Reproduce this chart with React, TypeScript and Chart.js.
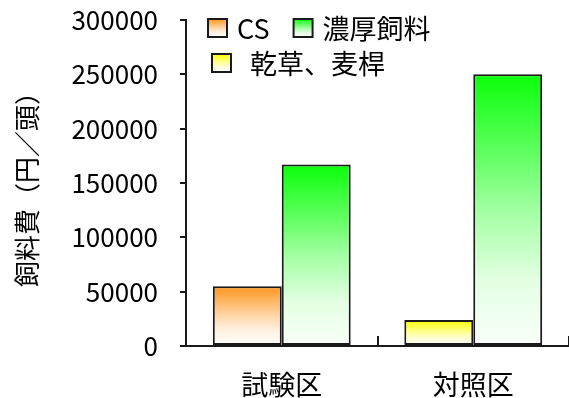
import React, { useEffect, useRef } from "react";
import { Chart, registerables } from "chart.js";

Chart.register(...registerables);

const categories = ["試験区", "対照区"];
const seriesNames = ["CS", "濃厚飼料", "乾草、麦桿"];
const csValues: (number | null)[] = [55000, null];
const hayValues: (number | null)[] = [null, 24000];
const concentrateValues: (number | null)[] = [167000, 250000];
const yMin = 0;
const yMax = 300000;
const yStep = 50000;
const yTitle = "飼料費（円／頭）";

const FONT = "'Noto Sans CJK JP', 'Noto Sans', sans-serif";
const ORANGE = [255, 150, 30];
const GREEN = [10, 255, 10];
const YELLOW = [255, 255, 0];

function mix(c: number[], f: number) {
  const r = Math.round(c[0] + (255 - c[0]) * f);
  const g = Math.round(c[1] + (255 - c[1]) * f);
  const b = Math.round(c[2] + (255 - c[2]) * f);
  return `rgb(${r},${g},${b})`;
}

const stops: [number, number][] = [
  [0, 0],
  [0.25, 0.3],
  [0.5, 0.62],
  [0.75, 0.88],
  [1, 0.98],
];

function makeGradient(ctx: CanvasRenderingContext2D, c: number[], top: number, bottom: number) {
  const g = ctx.createLinearGradient(0, top, 0, bottom);
  stops.forEach(([t, f]) => g.addColorStop(t, mix(c, f)));
  return g;
}

function barFill(c: number[]) {
  return (context: any) => {
    const chart = context.chart;
    if (!chart.chartArea || !context.parsed || context.parsed.y == null) return mix(c, 0.3);
    const y = chart.scales.y;
    const top = y.getPixelForValue(context.parsed.y);
    const bottom = y.getPixelForValue(0);
    if (!isFinite(top) || !isFinite(bottom) || bottom - top < 1) return mix(c, 0.3);
    return makeGradient(chart.ctx, c, top, bottom);
  };
}

const legendPlugin = {
  id: "insideLegend",
  afterDraw(chart: any) {
    const ctx: CanvasRenderingContext2D = chart.ctx;
    const left = chart.chartArea.left;
    const top = chart.chartArea.top;
    ctx.save();
    ctx.font = `27px ${FONT}`;
    ctx.textBaseline = "middle";
    ctx.textAlign = "left";
    const drawItem = (x: number, yc: number, w: number, h: number, c: number[], label: string, gap: number) => {
      const y0 = yc - h / 2;
      ctx.fillStyle = makeGradient(ctx, c, y0, y0 + h);
      ctx.fillRect(x, y0, w, h);
      ctx.lineWidth = 2;
      ctx.strokeStyle = "#1a1a1a";
      ctx.strokeRect(x, y0, w, h);
      ctx.fillStyle = "#000";
      ctx.fillText(label, x + w + gap, yc + 1);
      return x + w + gap + ctx.measureText(label).width;
    };
    const row1 = top + 8;
    const end1 = drawItem(left + 22, row1, 19, 18, ORANGE, seriesNames[0], 10);
    drawItem(end1 + 24, row1, 19, 18, GREEN, seriesNames[1], 10);
    drawItem(left + 26, top + 43, 19, 18, YELLOW, seriesNames[2], 19);
    ctx.restore();
  },
};

export default function App() {
  const ref = useRef<HTMLCanvasElement>(null);
  useEffect(() => {
    document.body.style.margin = "0";
    const canvas = ref.current!;
    const chart = new Chart(canvas, {
      type: "bar",
      data: {
        labels: categories,
        datasets: [
          {
            label: seriesNames[0],
            data: csValues,
            backgroundColor: barFill(ORANGE),
            borderColor: "#1a1a1a",
            borderWidth: 2,
            borderSkipped: false,
          },
          {
            label: seriesNames[2],
            data: hayValues,
            backgroundColor: barFill(YELLOW),
            borderColor: "#1a1a1a",
            borderWidth: 2,
            borderSkipped: false,
          },
          {
            label: seriesNames[1],
            data: concentrateValues,
            backgroundColor: barFill(GREEN),
            borderColor: "#1a1a1a",
            borderWidth: 2,
            borderSkipped: false,
          },
        ],
      },
      options: {
        animation: false,
        responsive: false,
        skipNull: true,
        categoryPercentage: 0.72,
        barPercentage: 1.0,
        layout: { padding: { top: 20, left: 0, right: 0, bottom: 0 } },
        plugins: { legend: { display: false }, tooltip: { enabled: false } },
        scales: {
          x: {
            afterFit: (s: any) => {
              s.height = 52;
              s.paddingLeft = 0;
              s.paddingRight = 0;
            },
            grid: {
              offset: true,
              drawOnChartArea: false,
              tickLength: -10,
              color: "#1a1a1a",
              lineWidth: 2,
            },
            border: { color: "#1a1a1a", width: 2 },
            ticks: {
              color: "#000",
              padding: 33,
              font: { family: FONT, size: 27 },
            },
          },
          y: {
            min: yMin,
            max: yMax,
            afterFit: (s: any) => {
              s.width = 186;
              s.paddingTop = 0;
              s.paddingBottom = 0;
            },
            ticks: {
              stepSize: yStep,
              color: "#000",
              padding: 22,
              font: { family: FONT, size: 26 },
              callback: (v: any) => String(v),
            },
            grid: {
              drawOnChartArea: false,
              tickLength: 6,
              color: "#1a1a1a",
              lineWidth: 2,
            },
            border: { color: "#1a1a1a", width: 2 },
            title: {
              display: true,
              text: yTitle,
              color: "#000",
              font: { family: FONT, size: 26 },
              padding: { top: 12, bottom: 0 },
            },
          },
        },
      },
      plugins: [legendPlugin],
    } as any);
    return () => chart.destroy();
  }, []);
  return (
    <div style={{ position: "absolute", left: 0, top: 0, width: 569, height: 398 }}>
      <canvas ref={ref} width={569} height={398} />
    </div>
  );
}
